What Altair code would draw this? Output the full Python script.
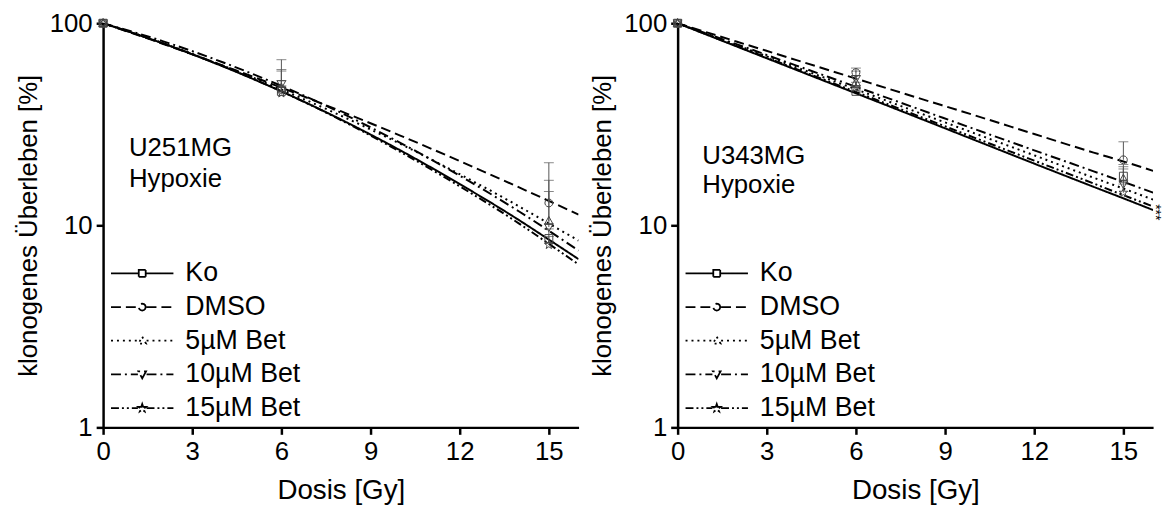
import altair as alt
import pandas as pd

FONT = "Liberation Sans"

series = ["Ko", "DMSO", "5µM Bet", "10µM Bet", "15µM Bet"]

# fitted survival curves
curve_dose = [0, 2, 4, 6, 8, 10, 12, 14, 15, 16]
u251_ko = [100, 79.6, 61.4, 46.0, 33.4, 23.5, 16.0, 10.6, 8.5, 6.8]
u251_dmso = [100, 79.2, 62.0, 48.0, 36.7, 27.8, 20.8, 15.4, 13.2, 11.3]
u251_bet5 = [100, 79.6, 61.9, 47.0, 34.9, 25.3, 17.9, 12.4, 10.2, 8.4]
u251_bet10 = [100, 81.6, 64.3, 49.0, 36.1, 25.6, 17.6, 11.7, 9.4, 7.5]
u251_bet15 = [100, 79.8, 61.6, 46.0, 33.2, 23.1, 15.6, 10.2, 8.1, 6.4]

u343_ko = [100, 76.6, 58.7, 45.0, 34.5, 26.4, 20.2, 15.5, 13.6, 11.9]
u343_dmso = [100, 81.0, 65.7, 53.2, 43.1, 35.0, 28.3, 22.9, 20.7, 18.6]
u343_bet5 = [100, 77.8, 60.5, 47.1, 36.6, 28.5, 22.2, 17.2, 15.2, 13.4]
u343_bet10 = [100, 78.6, 61.7, 48.5, 38.1, 29.9, 23.5, 18.5, 16.4, 14.5]
u343_bet15 = [100, 77.0, 59.3, 45.7, 35.2, 27.1, 20.9, 16.1, 14.1, 12.4]

# measured points (mean and upper error)
point_dose = [0, 6, 15]
u251_mean_ko = [100, 46, 8.6]
u251_mean_dmso = [100, 47, 12.9]
u251_mean_bet5 = [100, 48, 10.5]
u251_mean_bet10 = [100, 50, 9.8]
u251_mean_bet15 = [100, 45, 8.0]
u251_err_ko = [0, 6, 1.0]
u251_err_dmso = [0, 12, 7.5]
u251_err_bet5 = [0, 10, 6.2]
u251_err_bet10 = [0, 16, 4.9]
u251_err_bet15 = [0, 4, 0.8]

u343_mean_ko = [100, 46, 17.5]
u343_mean_dmso = [100, 57, 21.1]
u343_mean_bet5 = [100, 51, 17.0]
u343_mean_bet10 = [100, 53, 16.0]
u343_mean_bet15 = [100, 48, 14.5]
u343_err_ko = [0, 3, 2.0]
u343_err_dmso = [0, 3, 4.8]
u343_err_bet5 = [0, 4, 3.0]
u343_err_bet10 = [0, 5, 3.0]
u343_err_bet15 = [0, 3, 1.5]

u251_labels = ["U251MG", "Hypoxie"]
u251_label_dose = [0.87, 0.87]
u251_label_surv = [24.1, 17.0]
u343_labels = ["U343MG", "Hypoxie"]
u343_label_dose = [0.83, 0.83]
u343_label_surv = [22.0, 15.9]
u343_sig = ["***"]
u343_sig_dose = [16.07]
u343_sig_surv = [11.6]

x_ticks = [0, 3, 6, 9, 12, 15]
y_ticks = [1, 10, 100]

# styles
dashes = [[1, 0], [10, 5], [2, 4], [10, 4, 2, 4], [8, 3, 2, 3, 2, 3]]
markers = [
    "M-1,-1H1V1H-1Z",
    "M1,0L0.866,0.5L0.5,0.866L0,1L-0.5,0.866L-0.866,0.5L-1,0L-0.866,-0.5L-0.5,-0.866L0,-1L0.5,-0.866L0.866,-0.5Z",
    "M0,-1.15L1.1,0.85H-1.1Z",
    "M0,1.15L1.1,-0.85H-1.1Z",
    "M0,-1.15L0.27,-0.372L1.094,-0.355L0.437,0.142L0.676,0.93L0,0.46L-0.676,0.93L-0.437,0.142L-1.094,-0.355L-0.27,-0.372Z",
]
legend_paths = ["M-9,0H-1.25M1.25,0H9" + m for m in markers]
marker_of = dict(zip(series, markers))


def panel(curves, means, errs, lab_text, lab_dose, lab_surv, sig=None):
    curve_df = pd.DataFrame(
        [{"dose": d, "surv": v, "series": s}
         for s, vals in zip(series, curves) for d, v in zip(curve_dose, vals)]
    )
    pts_df = pd.DataFrame(
        [{"dose": d, "surv": m, "hi": m + e, "err": e, "series": s, "marker": marker_of[s]}
         for s, ms, es in zip(series, means, errs) for d, m, e in zip(point_dose, ms, es)]
    )
    lab_df = pd.DataFrame({"dose": lab_dose, "surv": lab_surv, "text": lab_text})

    xs = alt.Scale(domain=[0, 16], nice=False, zero=False)
    ys = alt.Scale(type="log", domain=[1, 100], nice=False)
    xax = alt.Axis(values=x_ticks, title="Dosis [Gy]", labelFlush=False)
    yax = alt.Axis(values=y_ticks, title="klonogenes Überleben [%]", format="d", labelFlush=False)
    x = alt.X("dose:Q", scale=xs, axis=xax)
    y = alt.Y("surv:Q", scale=ys, axis=yax)
    dash_enc = alt.StrokeDash("series:N", scale=alt.Scale(domain=series, range=dashes),
                              legend=alt.Legend(title=None))

    lines = alt.Chart(curve_df).mark_line(
        color="black", strokeWidth=2, interpolate="monotone", clip=True
    ).encode(x=x, y=y, strokeDash=dash_enc, detail="series:N")

    err_df = pts_df[pts_df["err"] > 0]
    rules = alt.Chart(err_df).mark_rule(color="#555", strokeWidth=1).encode(
        x=x, y=y, y2="hi:Q")
    caps = alt.Chart(err_df).mark_tick(
        orient="horizontal", size=10, thickness=1, color="#555"
    ).encode(x=x, y=alt.Y("hi:Q", scale=ys, axis=yax))

    pts = alt.Chart(pts_df).mark_point(
        filled=False, size=64, color="#444", strokeWidth=1, opacity=1
    ).encode(x=x, y=y, shape=alt.Shape("marker:N", scale=None))

    leg = alt.Chart(pts_df).transform_filter("false").mark_point(
        filled=False, color="black", opacity=1
    ).encode(
        x=x, y=y,
        shape=alt.Shape("series:N", scale=alt.Scale(domain=series, range=legend_paths),
                        legend=alt.Legend(title=None)),
        strokeDash=dash_enc,
    )

    texts = alt.Chart(lab_df).mark_text(
        align="left", baseline="middle", font=FONT, fontSize=26, color="black"
    ).encode(x=x, y=y, text="text:N")

    layers = [lines, rules, caps, pts, leg, texts]
    if sig is not None:
        sig_df = pd.DataFrame({"dose": sig[1], "surv": sig[2], "text": sig[0]})
        layers.append(
            alt.Chart(sig_df).mark_text(
                align="center", baseline="middle", angle=90, font=FONT,
                fontSize=14, color="black"
            ).encode(x=x, y=y, text="text:N")
        )
    return alt.layer(*layers).properties(width=480, height=408)


left = panel(
    [u251_ko, u251_dmso, u251_bet5, u251_bet10, u251_bet15],
    [u251_mean_ko, u251_mean_dmso, u251_mean_bet5, u251_mean_bet10, u251_mean_bet15],
    [u251_err_ko, u251_err_dmso, u251_err_bet5, u251_err_bet10, u251_err_bet15],
    u251_labels, u251_label_dose, u251_label_surv,
)
right = panel(
    [u343_ko, u343_dmso, u343_bet5, u343_bet10, u343_bet15],
    [u343_mean_ko, u343_mean_dmso, u343_mean_bet5, u343_mean_bet10, u343_mean_bet15],
    [u343_err_ko, u343_err_dmso, u343_err_bet5, u343_err_bet10, u343_err_bet15],
    u343_labels, u343_label_dose, u343_label_surv,
    sig=(u343_sig, u343_sig_dose, u343_sig_surv),
)

chart = (
    alt.hconcat(left, right, spacing=11)
    .resolve_scale(x="independent", y="independent", strokeDash="independent", shape="independent")
    .resolve_legend(strokeDash="independent", shape="independent")
    .properties(padding={"left": 7, "top": 0, "right": 0, "bottom": 0})
    .configure_view(stroke=None)
    .configure_axis(
        domainColor="black", domainWidth=2.5, tickColor="black", tickWidth=2.5,
        tickSize=7, labelFont=FONT, labelFontSize=26, labelColor="black",
        titleFont=FONT, titleFontSize=26, titleFontWeight="normal", titleColor="black",
        grid=False, labelPadding=4,
    )
    .configure_axisX(titlePadding=13, titleFontSize=28)
    .configure_axisY(titlePadding=8)
    .configure_legend(
        orient="none", legendX=26, legendY=239, padding=0,
        labelFont=FONT, labelFontSize=27, labelColor="black",
        symbolSize=49, symbolStrokeWidth=1.8, symbolStrokeColor="black",
        labelOffset=30, rowPadding=6,
    )
)

chart.save("out.html", embed_options={"renderer": "svg", "actions": False})
